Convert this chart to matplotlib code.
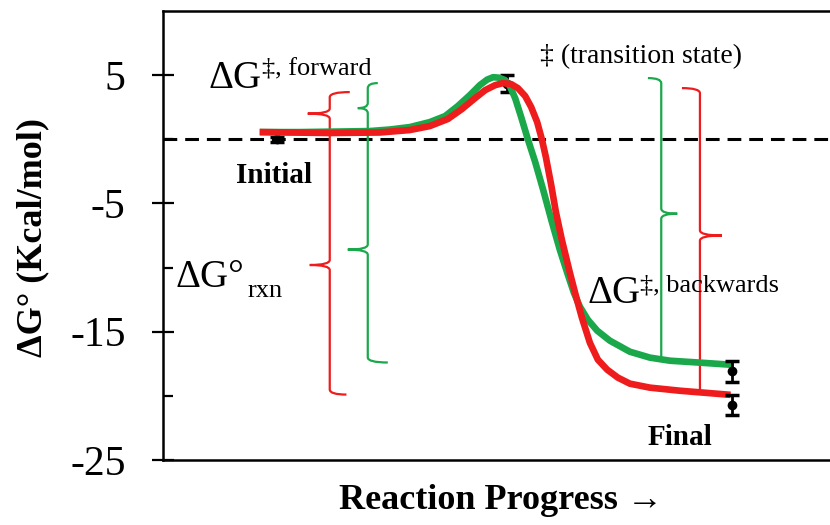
import matplotlib
matplotlib.use('Agg')
import matplotlib.pyplot as plt
from matplotlib.path import Path
from matplotlib.patches import PathPatch

plt.rcParams['font.family'] = ['Liberation Serif', 'DejaVu Serif']

# reaction progress (arbitrary units) and free energy (kcal/mol)
green_x = [1.50, 2.05, 2.60, 3.10, 3.40, 3.70, 4.00, 4.23, 4.42, 4.60, 4.75, 4.86,
           4.95, 5.04, 5.13, 5.20, 5.28, 5.37, 5.47, 5.58, 5.70, 5.83, 5.95, 6.06,
           6.16, 6.25, 6.37, 6.51, 6.70, 7.00, 7.30, 7.60, 8.05, 8.50]
green_y = [0.56, 0.56, 0.60, 0.64, 0.76, 0.95, 1.34, 1.81, 2.59, 3.44, 4.22, 4.65,
           4.84, 4.80, 4.61, 4.14, 3.20, 1.73, 0.00, -1.77, -3.95, -6.44, -8.62, -10.4,
           -11.96, -13.05, -14.07, -14.92, -15.70, -16.56, -17.02, -17.26, -17.41, -17.57]
red_x = [1.50, 2.50, 3.25, 3.70, 4.00, 4.27, 4.48, 4.68, 4.83, 4.98, 5.10, 5.22,
         5.32, 5.43, 5.52, 5.61, 5.68, 5.74, 5.82, 5.89, 5.98, 6.10, 6.19, 6.28,
         6.40, 6.52, 6.66, 6.82, 7.00, 7.30, 7.75, 8.46]
red_y = [0.56, 0.49, 0.53, 0.72, 1.03, 1.58, 2.35, 3.21, 3.83, 4.22, 4.38, 4.30,
         3.99, 3.37, 2.51, 1.34, 0.00, -1.38, -3.56, -5.66, -7.84, -10.4, -12.2, -13.9,
         -15.86, -17.18, -17.96, -18.58, -19.05, -19.36, -19.60, -19.90]

# measured points with error bars
pt_x = [1.71, 5.16, 8.53, 8.53]
pt_y = [0.0, 4.34, -18.1, -20.7]
pt_err = [0.2, 0.66, 0.8, 0.8]

green = '#1aa84b'
red = '#ee1c1c'

# braces: x, top, bottom, tip y, tip dx, top hook dx, bottom hook dx
braces = [
    (2.50, 3.68, 0.56, 2.00, -0.33, 0.30, 0.0, red),
    (2.50, 0.56, -19.9, -9.80, -0.30, 0.0, 0.25, red),
    (3.07, 4.38, 0.56, 2.43, -0.15, 0.15, 0.0, green),
    (3.07, 0.56, -17.4, -8.60, -0.30, 0.0, 0.30, green),
    (7.47, 4.77, -17.2, -5.80, 0.24, -0.20, 0.0, green),
    (8.05, 3.99, -19.67, -7.50, 0.33, -0.27, 0.0, red),
]


def brace(ax, x, top, bot, tip, tip_dx, top_dx, bot_dx, color, r=0.4):
    verts, codes = [], []
    if top_dx:
        verts += [(x + top_dx, top), (x, top), (x, top - r)]
        codes += [Path.MOVETO, Path.CURVE3, Path.CURVE3]
    else:
        verts += [(x, top)]
        codes += [Path.MOVETO]
    verts += [(x, tip + r), (x, tip), (x + tip_dx, tip)]
    codes += [Path.LINETO, Path.CURVE3, Path.CURVE3]
    verts += [(x + tip_dx, tip), (x, tip), (x, tip - r)]
    codes += [Path.MOVETO, Path.CURVE3, Path.CURVE3]
    if bot_dx:
        verts += [(x, bot + r), (x, bot), (x + bot_dx, bot)]
        codes += [Path.LINETO, Path.CURVE3, Path.CURVE3]
    else:
        verts += [(x, bot)]
        codes += [Path.LINETO]
    ax.add_patch(PathPatch(Path(verts, codes), fill=False, edgecolor=color, lw=1.6, zorder=2))


fig = plt.figure(figsize=(8.3, 5.25), dpi=100)
ax = fig.add_axes([163 / 830, 65 / 525, 667 / 830, 449 / 525])
ax.set_xlim(0, 10)
ax.set_ylim(-25, 10)

ax.axhline(0, color='black', lw=2.2, dashes=(4.5, 2.6), zorder=1)

for b in braces:
    brace(ax, *b)

ax.errorbar(pt_x[:2], pt_y[:2], yerr=pt_err[:2], fmt='o', color='black', ms=6,
            capsize=5, elinewidth=2, capthick=2.5, zorder=2)
ax.plot(green_x, green_y, color=green, lw=4.8, solid_joinstyle='round', zorder=3)
ax.plot(red_x, red_y, color=red, lw=4.8, solid_joinstyle='round', zorder=4)
ax.errorbar(pt_x[2:], pt_y[2:], yerr=pt_err[2:], fmt='o', color='black', ms=6,
            capsize=5, elinewidth=2, capthick=2.5, zorder=5)

# annotations
ax.text(0.675, 3.99, 'ΔG', fontsize=28, va='baseline')
ax.text(1.48, 5.0, '‡, forward', fontsize=19, va='baseline')
ax.text(5.65, 5.93, '‡ (transition state)', fontsize=20, va='baseline')
ax.text(1.09, -3.40, 'Initial', fontsize=21, fontweight='bold', va='baseline')
ax.text(0.18, -11.5, 'ΔG°', fontsize=28, va='baseline')
ax.text(1.26, -12.28, 'rxn', fontsize=19, va='baseline')
ax.text(6.37, -12.74, 'ΔG', fontsize=28, va='baseline')
ax.text(7.15, -11.89, '‡, backwards', fontsize=19, va='baseline')
ax.text(7.27, -23.8, 'Final', fontsize=21, fontweight='bold', va='baseline')

ax.set_yticks([5, -5, -15, -25])
ax.set_yticklabels(['5', '-5', '-15', '-25'])
ax.set_yticks([0, -10, -20], minor=True)
ax.tick_params(axis='y', which='major', direction='inout', length=16, width=1.6,
               labelsize=30, pad=19)
ax.tick_params(axis='y', which='minor', direction='in', length=7, width=1.6)
ax.set_xticks([])

ax.spines['right'].set_visible(False)
for s in ['left', 'top', 'bottom']:
    ax.spines[s].set_linewidth(1.8)

fig.text(501 / 830, 1 - 509 / 525, 'Reaction Progress →', fontsize=26,
         fontweight='bold', ha='center', va='baseline')
fig.text(33 / 830, 1 - 237.5 / 525, 'ΔG° (Kcal/mol)', fontsize=26,
         fontweight='bold', rotation=90, ha='center', va='center')

fig.savefig('out.png', dpi=100)
